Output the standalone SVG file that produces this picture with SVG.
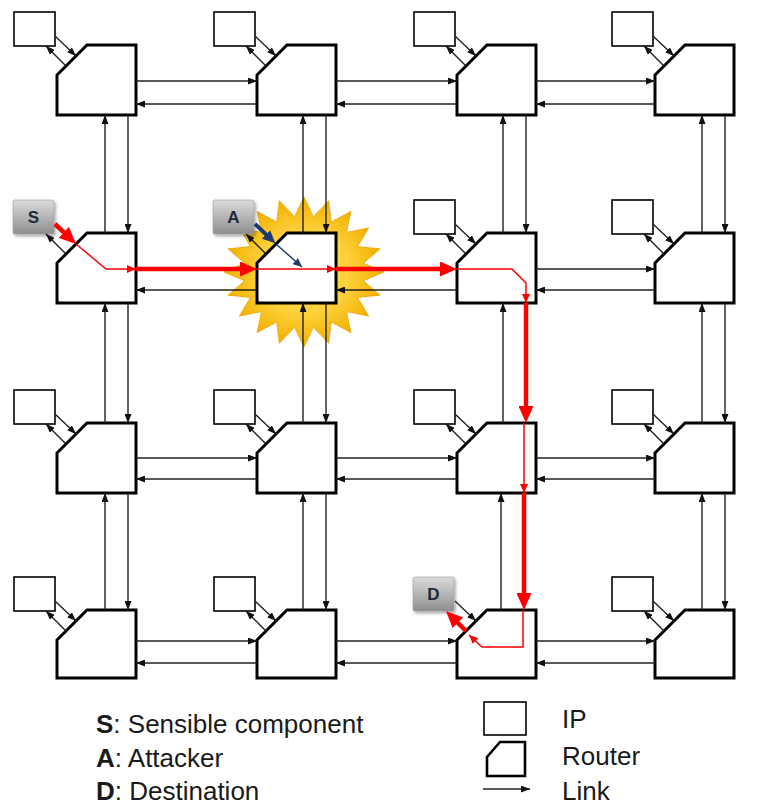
<svg xmlns="http://www.w3.org/2000/svg" width="766" height="811" viewBox="0 0 766 811">
<style>
.rt{fill:#fff;stroke:#000;stroke-width:3;stroke-linejoin:miter}
.ip{fill:#fff;stroke:#000;stroke-width:1.6}
.lk{fill:none;stroke:#222;stroke-width:1.4;marker-end:url(#ah)}
.rk{fill:none;stroke:#f00;stroke-width:4.5;marker-end:url(#ahR)}
.rn{fill:none;stroke:#f00;stroke-width:1.5;marker-end:url(#ahr)}
.gb{fill:url(#gg);stroke:#9a9a9a;stroke-width:0.6;filter:url(#sh)}
.gl{font-family:"Liberation Sans",Arial,sans-serif;font-weight:bold;font-size:17px;fill:#1e2a3a;text-anchor:middle}
.lg{font-family:"Liberation Sans",Arial,sans-serif;font-size:26px;fill:#1a1a1a}
</style>
<defs>
<marker id="ah" viewBox="0 0 9 7" refX="9" refY="3.5" markerWidth="9" markerHeight="7" markerUnits="userSpaceOnUse" orient="auto"><path d="M0,0L9,3.5L0,7z" fill="#111"/></marker>
<marker id="ahR" viewBox="0 0 17 15" refX="11" refY="7.5" markerWidth="17" markerHeight="15" markerUnits="userSpaceOnUse" orient="auto"><path d="M0,0L17,7.5L0,15z" fill="#f00"/></marker>
<marker id="ahr" viewBox="0 0 9 8" refX="9" refY="4" markerWidth="9" markerHeight="8" markerUnits="userSpaceOnUse" orient="auto"><path d="M0,0L9,4L0,8z" fill="#f00"/></marker>
<marker id="ahN" viewBox="0 0 13 12" refX="8" refY="6" markerWidth="13" markerHeight="12" markerUnits="userSpaceOnUse" orient="auto"><path d="M0,0L13,6L0,12z" fill="#1f3a6e"/></marker>
<marker id="ahn" viewBox="0 0 9 8" refX="9" refY="4" markerWidth="9" markerHeight="8" markerUnits="userSpaceOnUse" orient="auto"><path d="M0,0L9,4L0,8z" fill="#1f3a6e"/></marker>
<linearGradient id="gg" x1="0" y1="0" x2="0" y2="1"><stop offset="0" stop-color="#dcdcdc"/><stop offset="1" stop-color="#8e8e8e"/></linearGradient>
<radialGradient id="sg" cx="0.5" cy="0.5" r="0.5"><stop offset="0.55" stop-color="#ffd23c"/><stop offset="1" stop-color="#f0ae00"/></radialGradient>
<filter id="sh" x="-20%" y="-20%" width="150%" height="150%"><feDropShadow dx="1.5" dy="2" stdDeviation="1.5" flood-color="#000" flood-opacity="0.35"/></filter>
</defs>

<g id="burst">
<polygon fill="url(#sg)" stroke="#e8a600" stroke-width="0.8" points="384,272 363.3,280.8 380.1,295.2 357.5,297.4 368.7,316.1 346.4,311.6 351,332.7 331.2,321.9 328.7,343.3 313.4,327.3 304,347 294.6,327.3 279.3,343.3 276.8,321.9 257,332.7 261.6,311.6 239.3,316.1 250.5,297.4 227.9,295.2 244.7,280.8 224,272 244.7,263.2 227.9,248.8 250.5,246.6 239.3,227.9 261.6,232.4 257,211.3 276.8,222.1 279.3,200.7 294.6,216.7 304,197 313.4,216.7 328.7,200.7 331.2,222.1 351,211.3 346.4,232.4 368.7,227.9 357.5,246.6 380.1,248.8 363.3,263.2"/>
</g>

<g id="nodes">
<g id="r11"><rect class="ip" x="14" y="12" width="41" height="34"/><path class="rt" d="M57,75L87,45L136,45L136,115L57,115Z"/></g>
<g id="r12"><rect class="ip" x="214" y="12" width="41" height="34"/><path class="rt" d="M257,75L287,45L336,45L336,115L257,115Z"/></g>
<g id="r13"><rect class="ip" x="414" y="12" width="41" height="34"/><path class="rt" d="M457,75L487,45L536,45L536,115L457,115Z"/></g>
<g id="r14"><rect class="ip" x="612" y="12" width="41" height="34"/><path class="rt" d="M655,75L685,45L734,45L734,115L655,115Z"/></g>

<g id="r21"><rect class="gb" x="13" y="200" width="41" height="34" rx="2"/><text class="gl" x="33.5" y="223">S</text><path class="rt" d="M57,263L87,233L136,233L136,303L57,303Z"/></g>
<g id="r22"><rect class="gb" x="213" y="200" width="41" height="34" rx="2"/><text class="gl" x="233.5" y="223">A</text><path class="rt" d="M257,263L287,233L336,233L336,303L257,303Z"/></g>
<g id="r23"><rect class="ip" x="414" y="200" width="41" height="34"/><path class="rt" d="M457,263L487,233L536,233L536,303L457,303Z"/></g>
<g id="r24"><rect class="ip" x="612" y="200" width="41" height="34"/><path class="rt" d="M655,263L685,233L734,233L734,303L655,303Z"/></g>

<g id="r31"><rect class="ip" x="14" y="390" width="41" height="34"/><path class="rt" d="M57,453L87,423L136,423L136,493L57,493Z"/></g>
<g id="r32"><rect class="ip" x="214" y="390" width="41" height="34"/><path class="rt" d="M257,453L287,423L336,423L336,493L257,493Z"/></g>
<g id="r33"><rect class="ip" x="414" y="390" width="41" height="34"/><path class="rt" d="M457,453L487,423L536,423L536,493L457,493Z"/></g>
<g id="r34"><rect class="ip" x="612" y="390" width="41" height="34"/><path class="rt" d="M655,453L685,423L734,423L734,493L655,493Z"/></g>

<g id="r41"><rect class="ip" x="14" y="577" width="41" height="34"/><path class="rt" d="M57,640L87,610L136,610L136,678L57,678Z"/></g>
<g id="r42"><rect class="ip" x="214" y="577" width="41" height="34"/><path class="rt" d="M257,640L287,610L336,610L336,678L257,678Z"/></g>
<g id="r43"><rect class="gb" x="413" y="577" width="41" height="34" rx="2"/><text class="gl" x="433.5" y="600">D</text><path class="rt" d="M457,640L487,610L536,610L536,678L457,678Z"/></g>
<g id="r44"><rect class="ip" x="612" y="577" width="41" height="34"/><path class="rt" d="M655,640L685,610L734,610L734,678L655,678Z"/></g>
</g>

<g id="connectors">
<!-- IP <-> router links -->
<path class="lk" d="M55,36L76,56"/><path class="lk" d="M66,66L46,46"/>
<path class="lk" d="M255,36L276,56"/><path class="lk" d="M266,66L246,46"/>
<path class="lk" d="M455,36L476,56"/><path class="lk" d="M466,66L446,46"/>
<path class="lk" d="M653,36L674,56"/><path class="lk" d="M664,66L644,46"/>
<path class="lk" d="M66,254L46,234"/>
<path class="lk" d="M266,254L246,234"/>
<path class="lk" d="M455,224L476,244"/><path class="lk" d="M466,254L446,234"/>
<path class="lk" d="M653,224L674,244"/><path class="lk" d="M664,254L644,234"/>
<path class="lk" d="M55,414L76,434"/><path class="lk" d="M66,444L46,424"/>
<path class="lk" d="M255,414L276,434"/><path class="lk" d="M266,444L246,424"/>
<path class="lk" d="M455,414L476,434"/><path class="lk" d="M466,444L446,424"/>
<path class="lk" d="M653,414L674,434"/><path class="lk" d="M664,444L644,424"/>
<path class="lk" d="M55,601L76,621"/><path class="lk" d="M66,631L46,611"/>
<path class="lk" d="M255,601L276,621"/><path class="lk" d="M266,631L246,611"/>
<path class="lk" d="M455,601L476,621"/>
<path class="lk" d="M653,601L674,621"/><path class="lk" d="M664,631L644,611"/>
<!-- horizontal links -->
<path class="lk" d="M136,81H257"/><path class="lk" d="M257,104H136"/>
<path class="lk" d="M336,81H457"/><path class="lk" d="M457,104H336"/>
<path class="lk" d="M536,81H655"/><path class="lk" d="M655,104H536"/>
<path class="lk" d="M257,290H136"/>
<path class="lk" d="M457,290H336"/>
<path class="lk" d="M536,269H655"/><path class="lk" d="M655,290H536"/>
<path class="lk" d="M136,458H257"/><path class="lk" d="M257,479H136"/>
<path class="lk" d="M336,458H457"/><path class="lk" d="M457,479H336"/>
<path class="lk" d="M536,458H655"/><path class="lk" d="M655,479H536"/>
<path class="lk" d="M136,641H257"/><path class="lk" d="M257,663H136"/>
<path class="lk" d="M336,641H457"/><path class="lk" d="M457,663H336"/>
<path class="lk" d="M536,641H655"/><path class="lk" d="M655,663H536"/>
<!-- vertical links -->
<path class="lk" d="M105,233V115"/><path class="lk" d="M128,115V233"/>
<path class="lk" d="M303,233V115"/><path class="lk" d="M326,115V233"/>
<path class="lk" d="M503,233V115"/><path class="lk" d="M526,115V233"/>
<path class="lk" d="M702,233V115"/><path class="lk" d="M725,115V233"/>
<path class="lk" d="M105,423V303"/><path class="lk" d="M128,303V423"/>
<path class="lk" d="M303,423V303"/><path class="lk" d="M326,303V423"/>
<path class="lk" d="M503,423V303"/>
<path class="lk" d="M702,423V303"/><path class="lk" d="M725,303V423"/>
<path class="lk" d="M105,610V493"/><path class="lk" d="M128,493V610"/>
<path class="lk" d="M303,610V493"/><path class="lk" d="M326,493V610"/>
<path class="lk" d="M501,610V493"/>
<path class="lk" d="M702,610V493"/><path class="lk" d="M725,493V610"/>
<!-- attack path -->
<path class="rk" d="M55,224L71.7,239.9"/>
<path class="rn" d="M76,244L106,269H136"/>
<path class="rk" d="M136,269H251"/>
<path class="rn" d="M257,269H336"/>
<path class="rk" d="M336,269H451"/>
<path class="rn" d="M457,269H512L526,283V303"/>
<path class="rk" d="M526,303V417"/>
<path class="rn" d="M524,423V493"/>
<path class="rk" d="M524,493V604"/>
<path class="rn" d="M523,610V647H482L469,635"/>
<path class="rk" d="M466,631L450.2,615.2"/>
<path fill="none" stroke="#1f3a6e" stroke-width="4" marker-end="url(#ahN)" d="M255,224L271.7,239.9"/>
<path fill="none" stroke="#1f3a6e" stroke-width="1.5" marker-end="url(#ahn)" d="M276,244L302,267"/>
</g>

<g id="legend">
<text class="lg" x="96" y="733"><tspan font-weight="bold">S</tspan>: Sensible component</text>
<text class="lg" x="96" y="767"><tspan font-weight="bold">A</tspan>: Attacker</text>
<text class="lg" x="96" y="800"><tspan font-weight="bold">D</tspan>: Destination</text>
<rect class="ip" x="484" y="702" width="42" height="33"/>
<path fill="#fff" stroke="#000" stroke-width="2.6" d="M487,757L500,742L525,742L525,776L487,776Z"/>
<path class="lk" d="M483,789H530"/>
<text class="lg" x="562" y="728">IP</text>
<text class="lg" x="562" y="765">Router</text>
<text class="lg" x="562" y="800">Link</text>
</g>
</svg>
